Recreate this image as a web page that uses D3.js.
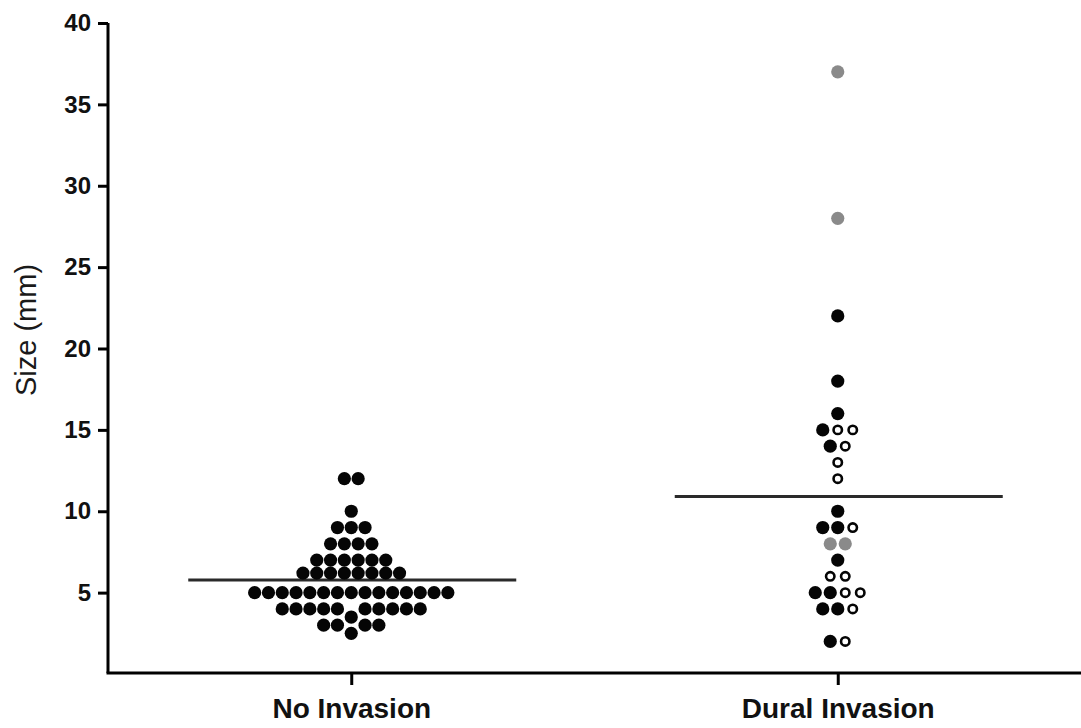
<!DOCTYPE html>
<html>
<head>
<meta charset="utf-8">
<script src="https://cdn.jsdelivr.net/npm/d3@7"></script>
<style>
  body { margin: 0; background: #fff; }
</style>
</head>
<body>
<div id="vis"></div>
<script>
var w = 1081, h = 728;

// groups on the x axis
var categories = ["No Invasion", "Dural Invasion"];

// tumour sizes (mm)
var noInvasion = [12, 12,
                  10,
                  9, 9, 9,
                  8, 8, 8, 8,
                  7, 7, 7, 7, 7, 7,
                  6.2, 6.2, 6.2, 6.2, 6.2, 6.2, 6.2, 6.2,
                  5, 5, 5, 5, 5, 5, 5, 5, 5, 5, 5, 5, 5, 5, 5,
                  4, 4, 4, 4, 4, 4, 4, 4, 4, 4,
                  3.5,
                  3, 3, 3, 3,
                  2.5];

// dural invasion, left to right inside each row
var duralValues = [37, 28, 22, 18, 16,
                   15, 15, 15, 14, 14, 13, 12, 10,
                   9, 9, 9, 8, 8, 7, 6, 6,
                   5, 5, 5, 5, 4, 4, 4, 2, 2];
var duralTypes = ["grey", "grey", "filled", "filled", "filled",
                  "filled", "open", "open", "filled", "open", "open", "open", "filled",
                  "filled", "filled", "open", "grey", "grey", "filled", "open", "open",
                  "filled", "filled", "open", "open", "filled", "filled", "open", "filled", "open"];

var yTicks = [5, 10, 15, 20, 25, 30, 35, 40];

var svg = d3.select("#vis").append("svg")
            .attr("width", w)
            .attr("height", h);

var x = d3.scalePoint()
          .domain(categories)
          .range([108, 1081])
          .padding(0.5);

var y = d3.scaleLinear()
          .domain([0, 40])
          .range([674, 23]);

//lay the dots out row by row, centred, pushing them sideways when they would overlap
function layout(values, types, cx, step, minDist) {
  var placed = [];
  var rows = d3.groups(values.map(function(v, i){ return {v: v, t: types[i]}; }), function(d){ return d.v; })
               .sort(function(a, b){ return a[0] - b[0]; });
  rows.forEach(function(row){
    var pts = row[1], n = pts.length, yy = y(row[0]);
    var hits = function(o){
      return placed.some(function(p){ return Math.hypot(p.x - (cx + o*step), p.y - yy) < minDist; });
    };
    var offs = d3.range(n).map(function(i){ return i - (n - 1) / 2; });
    if (offs.some(hits)) {
      offs = [];
      for (var k = 0; offs.length < n; k++) {
        [k, -k].forEach(function(o, j){
          if ((k > 0 || j == 0) && offs.length < n && !hits(o)) offs.push(o);
        });
      }
      offs.sort(function(a, b){ return a - b; });
    }
    pts.forEach(function(p, i){
      placed.push({x: cx + offs[i]*step, y: yy, t: p.t});
    });
  });
  return placed;
}

var dotsA = layout(noInvasion, noInvasion.map(function(){ return "filled"; }), x(categories[0]), 13.8, 12);
var dotsB = layout(duralValues, duralTypes, x(categories[1]), 15, 12);

//mean lines
var means = [d3.mean(noInvasion), d3.mean(duralValues)];
svg.selectAll("line.mean")
   .data(means)
   .enter()
   .append("line")
   .attr("class", "mean")
   .attr("x1", function(d, i){ return x(categories[i]) - 163; })
   .attr("x2", function(d, i){ return x(categories[i]) + 165; })
   .attr("y1", function(d){ return y(d); })
   .attr("y2", function(d){ return y(d); })
   .attr("stroke", "#2a2a2a")
   .attr("stroke-width", 3);

svg.selectAll("circle.dot")
   .data(dotsA.concat(dotsB))
   .enter()
   .append("circle")
   .attr("class", "dot")
   .attr("cx", function(d){ return d.x; })
   .attr("cy", function(d){ return d.y; })
   .attr("r", function(d){ return d.t == "open" ? 4.2 : 6.6; })
   .attr("fill", function(d){
      return d.t == "open" ? "#fff" : (d.t == "grey" ? "#8a8a8a" : "#050505");
   })
   .attr("stroke", function(d){ return d.t == "open" ? "#050505" : "none"; })
   .attr("stroke-width", 2.6);

//axes
var yAxis = svg.append("g")
   .attr("transform", "translate(108,0)")
   .call(d3.axisLeft(y).tickValues(yTicks).tickSize(10).tickSizeOuter(0).tickPadding(7));
yAxis.select(".domain").attr("stroke-width", 3).attr("d", "M0," + y(40) + "V" + 673);
yAxis.selectAll(".tick line").attr("stroke-width", 3);
yAxis.selectAll(".tick text")
     .attr("font-family", "Liberation Sans, Arial, sans-serif")
     .attr("font-weight", "bold")
     .attr("font-size", 24)
     .attr("fill", "#111");

var xAxis = svg.append("g")
   .attr("transform", "translate(0,673)")
   .call(d3.axisBottom(x).tickSize(12).tickSizeOuter(0).tickPadding(13));
xAxis.select(".domain").attr("stroke-width", 3).attr("d", "M106.5,0H1081");
xAxis.selectAll(".tick line").attr("stroke-width", 3);
xAxis.selectAll(".tick text")
     .attr("font-family", "Liberation Sans Narrow, Arial Narrow, sans-serif")
     .attr("font-weight", "bold")
     .attr("font-size", 28)
     .attr("fill", "#111");

svg.append("text")
   .attr("transform", "translate(36,330) rotate(-90)")
   .attr("text-anchor", "middle")
   .attr("font-family", "Liberation Sans, Arial, sans-serif")
   .attr("font-size", 29)
   .attr("fill", "#1a1a1a")
   .text("Size (mm)");
</script>
</body>
</html>
